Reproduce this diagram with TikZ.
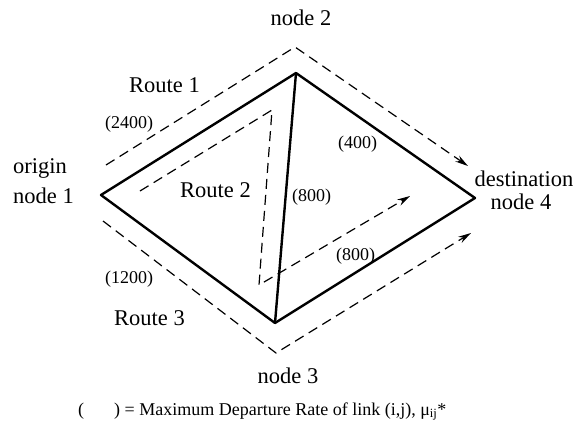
\documentclass[tikz,border=0pt]{standalone}
\usepackage{fontspec}
\setmainfont{Liberation Serif}
\usetikzlibrary{arrows.meta}
\tikzset{
    % link and route styles
    link/.style={
        line width=2.4pt,
        line join=round,
        draw=black
    },
    route/.style={
        line width=1.2pt,
        dash pattern=on 10pt off 6pt,
        draw=black
    },
    routearrow/.style={
        route,
        -{Stealth[length=13pt,width=7pt]}
    },
    % label styles
    biglabel/.style={
        inner sep=0pt,
        font=\fontsize{22.5}{30}\selectfont
    },
    ratelabel/.style={
        inner sep=0pt,
        font=\fontsize{18}{22}\selectfont
    }
}
\begin{document}
\begin{tikzpicture}[x=1pt, y=-1pt]
    \useasboundingbox (0,0) rectangle (576,429);

    % network nodes
    \coordinate (n1) at (101,195);
    \coordinate (n2) at (296,73);
    \coordinate (n4) at (475,198);
    \coordinate (n3) at (275,323);

    % route corners
    \coordinate (r1a) at (106,165);
    \coordinate (r1b) at (295,47);
    \coordinate (r1c) at (468,166);
    \coordinate (r2a) at (140,191);
    \coordinate (r2b) at (272,110);
    \coordinate (r2c) at (259,285);
    \coordinate (r2d) at (410,196);
    \coordinate (r3a) at (103,221);
    \coordinate (r3b) at (276,353);
    \coordinate (r3c) at (471,233);

    % links
    \draw[link] (n1) -- (n2) -- (n4) -- (n3) -- cycle;
    \draw[link] (n2) -- (n3);

    % routes
    \draw[routearrow] (r1a) -- (r1b) -- (r1c);
    \draw[routearrow] (r2a) -- (r2b) -- (r2c) -- (r2d);
    \draw[routearrow] (r3a) -- (r3b) -- (r3c);

    % node labels
    \node[biglabel, anchor=base] (lbl2) at (301,25) {node 2};
    \node[biglabel, anchor=base west] (lblorig) at (13,173) {origin};
    \node[biglabel, anchor=base west] (lbl1) at (13,203) {node 1};
    \node[biglabel, anchor=base] (lbldest) at (524,186) {destination};
    \node[biglabel, anchor=base] (lbl4) at (521,209) {node 4};
    \node[biglabel, anchor=base] (lbl3) at (288,383) {node 3};

    % route labels
    \node[biglabel, anchor=base west] (lblr1) at (129,92) {Route 1};
    \node[biglabel, anchor=base west] (lblr2) at (180,197) {Route 2};
    \node[biglabel, anchor=base west] (lblr3) at (114,325) {Route 3};

    % link rates
    \node[ratelabel, anchor=base west] (rate12) at (105,128) {(2400)};
    \node[ratelabel, anchor=base west] (rate24) at (338,148) {(400)};
    \node[ratelabel, anchor=base west] (rate23) at (292,201) {(800)};
    \node[ratelabel, anchor=base west] (rate34) at (336,260) {(800)};
    \node[ratelabel, anchor=base west] (rate13) at (105,283) {(1200)};

    % legend
    \node[ratelabel, anchor=base west] (legend) at (78,415)
        {(\hspace*{30pt}) = Maximum Departure Rate of link (i,j), μ\textsubscript{ij}*};
\end{tikzpicture}
\end{document}
